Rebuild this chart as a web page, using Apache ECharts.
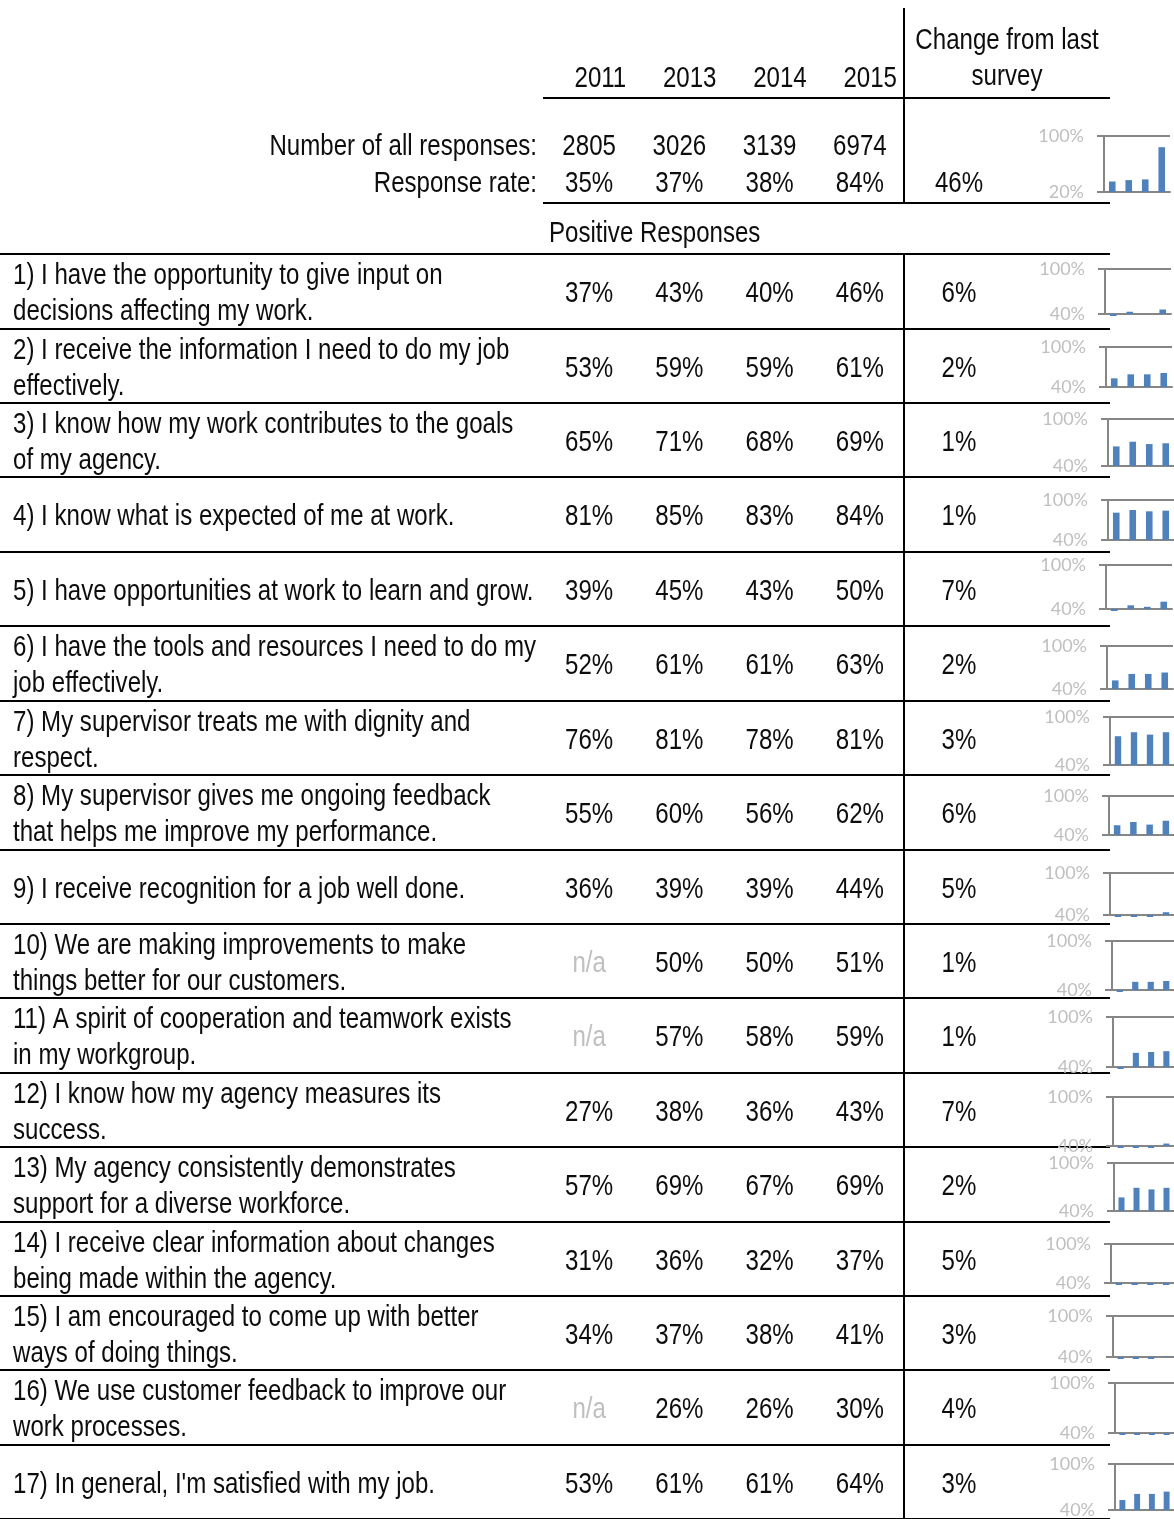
<!DOCTYPE html>
<html><head><meta charset="utf-8">
<script src="https://cdn.jsdelivr.net/npm/echarts@6/dist/echarts.min.js"></script>
<style>html,body{margin:0;padding:0;background:#fff}#c{width:1174px;height:1519px}</style>
</head><body><div id="c"></div>
<script>
// ---------- data ----------
const years = ['2011', '2013', '2014', '2015'];
const statLabels = ['Number of all responses:', 'Response rate:'];
const responses = [2805, 3026, 3139, 6974];
const responseRate = [35, 37, 38, 84];
const responseRateChange = 46;
const questions = [
  "1) I have the opportunity to give input on\ndecisions affecting my work.",
  "2) I receive the information I need to do my job\neffectively.",
  "3) I know how my work contributes to the goals\nof my agency.",
  "4) I know what is expected of me at work.",
  "5) I have opportunities at work to learn and grow.",
  "6) I have the tools and resources I need to do my\njob effectively.",
  "7) My supervisor treats me with dignity and\nrespect.",
  "8) My supervisor gives me ongoing feedback\nthat helps me improve my performance.",
  "9) I receive recognition for a job well done.",
  "10) We are making improvements to make\nthings better for our customers.",
  "11) A spirit of cooperation and teamwork exists\nin my workgroup.",
  "12) I know how my agency measures its\nsuccess.",
  "13) My agency consistently demonstrates\nsupport for a diverse workforce.",
  "14) I receive clear information about changes\nbeing made within the agency.",
  "15) I am encouraged to come up with better\nways of doing things.",
  "16) We use customer feedback to improve our\nwork processes.",
  "17) In general, I'm satisfied with my job."
];
const v2011 = [37, 53, 65, 81, 39, 52, 76, 55, 36, null, null, 27, 57, 31, 34, null, 53];
const v2013 = [43, 59, 71, 85, 45, 61, 81, 60, 39, 50, 57, 38, 69, 36, 37, 26, 61];
const v2014 = [40, 59, 68, 83, 43, 61, 78, 56, 39, 50, 58, 36, 67, 32, 38, 26, 61];
const v2015 = [46, 61, 69, 84, 50, 63, 81, 62, 44, 51, 59, 43, 69, 37, 41, 30, 64];
const changes = [6, 2, 1, 1, 7, 2, 3, 6, 5, 1, 1, 7, 2, 5, 3, 4, 3];
const headerTexts = { change: 'Change from last\nsurvey', section: 'Positive Responses', na: 'n/a' };

// ---------- layout / style ----------
const FONT = "29px 'Liberation Sans', Arial, sans-serif";
const SX = 0.83;               // horizontal condensing (narrow face)
const TXT = '#0d0d0d';
const RULE = { stroke: '#000', lineWidth: 2 };
const ROW_TOP = 254, ROW_H = 74.94, NROWS = questions.length;
const TABLE_H = ROW_H * NROWS;
const BAR = '#4f81bd', AX = '#868686', LBL = '#bfbfbf';
// sparkline boxes: [axisLeft, top(100%), bottom(min)]
const sparkPos = [
  [1104, 136, 192],
  [1105, 269, 314], [1106, 347, 387], [1108, 419, 466], [1108, 500, 540],
  [1106, 565, 609], [1107, 646, 689], [1110, 717, 765], [1109, 796, 835],
  [1110, 873, 915], [1112, 941, 990], [1113, 1017, 1067], [1113, 1097, 1146],
  [1114, 1163, 1211], [1111, 1244, 1283], [1113, 1316, 1357], [1115, 1383, 1433],
  [1115, 1464, 1512]
];

const yearVals = [v2011, v2013, v2014, v2015];
const rowIdx = questions.map((q, i) => String(i));
const pct = v => v + '%';

const grid = [], xAxis = [], yAxis = [], series = [];
function hiddenCat(data, inverse) {
  return { type: 'category', data: data, inverse: !!inverse,
    axisLine: { show: false }, axisTick: { show: false }, axisLabel: { show: false }, splitLine: { show: false } };
}
function hiddenVal() { return { type: 'value', min: 0, max: 1, show: false }; }
function addGrid(g, xa, ya) {
  const gi = grid.length;
  grid.push(g);
  xAxis.push(Object.assign({ gridIndex: gi }, xa));
  yAxis.push(Object.assign({ gridIndex: gi }, ya));
  return gi;
}
// text cells drawn through the grid's axes
function addText(gi, points, texts, opt) {
  opt = opt || {};
  const align = opt.align || 'center';
  series.push({
    type: 'custom', xAxisIndex: gi, yAxisIndex: gi, silent: true, data: points,
    renderItem: function (params, api) {
      const p = api.coord([api.value(0), api.value(1)]);
      let dx = opt.dx || 0;
      if (opt.edge === 'right') dx += api.size([1, 0])[0] / 2;
      const t = texts[params.dataIndex];
      return { type: 'text', x: p[0] + dx, y: p[1] + (opt.dy || 0), scaleX: SX,
        style: { x: 0, y: 0, text: t.text, fill: t.color || TXT, font: FONT,
          align: align, textAlign: align, verticalAlign: 'middle', textVerticalAlign: 'middle', lineHeight: 36 } };
    }
  });
}

// question column + row rules
let gi = addGrid({ left: 0, top: ROW_TOP, width: 1110, height: TABLE_H }, hiddenVal(),
  Object.assign(hiddenCat(rowIdx, true), { splitLine: { show: true, interval: 0, lineStyle: { color: '#000', width: 2 } } }));
addText(gi, questions.map((q, i) => [0, i]), questions.map(q => ({ text: q })), { align: 'left', dx: 13, dy: 3 });

// year columns
gi = addGrid({ left: 544, top: ROW_TOP, width: 361, height: TABLE_H }, hiddenCat(years), hiddenCat(rowIdx, true));
const yPts = [], yTxt = [];
yearVals.forEach((arr, c) => arr.forEach((v, r) => {
  yPts.push([c, r]);
  yTxt.push(v == null ? { text: headerTexts.na, color: LBL } : { text: pct(v) });
}));
addText(gi, yPts, yTxt, { dy: 3 });

// change column (left axis line = vertical rule)
gi = addGrid({ left: 904, top: ROW_TOP, width: 110, height: TABLE_H }, hiddenCat(['change']),
  Object.assign(hiddenCat(rowIdx, true), { axisLine: { show: true, lineStyle: { color: '#000', width: 2 } } }));
addText(gi, changes.map((v, r) => [0, r]), changes.map(v => ({ text: pct(v) })), { dy: 3 });

// header: year titles
gi = addGrid({ left: 544, top: 62, width: 361, height: 34 }, hiddenCat(years), hiddenCat(['y']));
addText(gi, years.map((y, c) => [c, 0]), years.map(y => ({ text: y })), { align: 'right', edge: 'right', dx: -8 });

// header: stats rows
gi = addGrid({ left: 544, top: 128.5, width: 361, height: 74 }, hiddenCat(years), hiddenCat(statLabels, true));
addText(gi, responses.map((v, c) => [c, 0]).concat(responseRate.map((v, c) => [c, 1])),
  responses.map(v => ({ text: String(v) })).concat(responseRate.map(v => ({ text: pct(v) }))));

// header: stats labels
gi = addGrid({ left: 0, top: 128.5, width: 544, height: 74 }, hiddenVal(), hiddenCat(statLabels, true));
addText(gi, statLabels.map((s, r) => [1, r]), statLabels.map(s => ({ text: s })), { align: 'right', dx: -7 });

// header: change of response rate
gi = addGrid({ left: 904, top: 128.5, width: 110, height: 74 }, hiddenCat(['change']), hiddenCat(statLabels, true));
addText(gi, [[0, 1]], [{ text: pct(responseRateChange) }]);

// sparklines
function sparkRender(base) {
  return function (params, api) {
    let v = api.value(1);
    if (isNaN(v)) v = 0;
    const p0 = api.coord([api.value(0), base]);
    const bw = api.size([1, 0])[0] * 0.4;
    const y1 = v >= base ? api.coord([api.value(0), v])[1] : p0[1] + 2;
    return { type: 'rect', shape: { x: p0[0] - bw / 2, y: Math.min(p0[1], y1), width: bw, height: Math.abs(y1 - p0[1]) },
      style: { fill: BAR } };
  };
}
const sparkSets = [responseRate].concat(questions.map((q, r) => yearVals.map(a => a[r])));
sparkSets.forEach((vals, i) => {
  const pos = sparkPos[i];
  const min = i === 0 ? 20 : 40;
  const g = addGrid({ left: pos[0], top: pos[1], width: 66, height: pos[2] - pos[1] },
    { type: 'category', data: years,
      axisLine: { show: true, lineStyle: { color: AX, width: 2 } }, axisTick: { show: false }, axisLabel: { show: false } },
    { type: 'value', min: min, max: 100, interval: 100 - min,
      axisLine: { show: true, lineStyle: { color: AX, width: 2 } },
      axisTick: { show: true, length: 7, lineStyle: { color: AX, width: 2 } },
      splitLine: { show: true, lineStyle: { color: AX, width: 2 } },
      axisLabel: { show: true, margin: 20, formatter: '{value}%', fontFamily: 'Lato, sans-serif', fontSize: 18, color: LBL } });
  series.push({ type: 'custom', xAxisIndex: g, yAxisIndex: g, silent: true, renderItem: sparkRender(min),
    data: vals.map((v, c) => [c, v == null ? NaN : v]) });
});

const option = {
  animation: false,
  grid, xAxis, yAxis, series,
  graphic: [
    { type: 'line', shape: { x1: 543, y1: 98, x2: 1110, y2: 98 }, style: RULE },
    { type: 'line', shape: { x1: 543, y1: 203, x2: 1110, y2: 203 }, style: RULE },
    { type: 'line', shape: { x1: 904, y1: 8, x2: 904, y2: 203 }, style: RULE },
    { type: 'text', x: 1007, y: 59, scaleX: SX, style: { x: 0, y: 0, text: headerTexts.change, fill: TXT, font: FONT, align: 'center', textAlign: 'center', verticalAlign: 'middle', textVerticalAlign: 'middle', lineHeight: 36 } },
    { type: 'text', x: 549, y: 234, scaleX: SX, style: { x: 0, y: 0, text: headerTexts.section, fill: TXT, font: FONT, align: 'left', textAlign: 'left', verticalAlign: 'middle', textVerticalAlign: 'middle' } }
  ]
};
const chart = echarts.init(document.getElementById('c'), null, { renderer: 'canvas' });
chart.setOption(option);
</script></body></html>
